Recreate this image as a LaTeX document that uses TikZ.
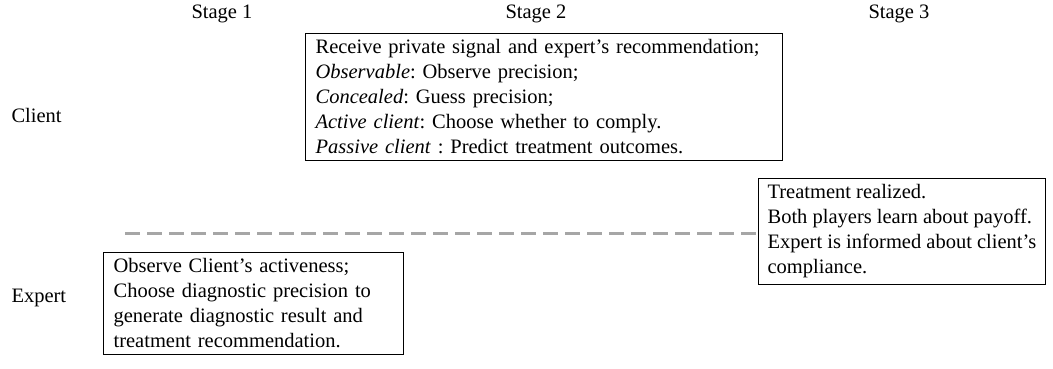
\documentclass[tikz,border=0pt]{standalone}
\usepackage{fontspec}
\setmainfont{Liberation Serif}
\usetikzlibrary{positioning}
\frenchspacing

\tikzset{
  stage/.style={anchor=base, font=\fontsize{20.5}{25}\selectfont},
  player/.style={anchor=base west, font=\fontsize{20.5}{25}\selectfont},
  stagebox/.style={draw, line width=1.2pt, anchor=north west, align=left,
    inner xsep=10pt, inner ysep=6pt, font=\fontsize{20.5}{25}\selectfont},
  divider/.style={line width=3pt, color=black!35, dash pattern=on 15pt off 7pt}
}

\begin{document}
\begin{tikzpicture}[x=1pt,y=-1pt]

		\useasboundingbox (0,0) rectangle (1053,368);

		\coordinate (S1) at (222,18);
		\coordinate (S2) at (536,18);
		\coordinate (S3) at (899,18);

		\node[stage] (stage1) at (S1) {Stage 1};
		\node[stage] (stage2) at (S2) {Stage 2};
		\node[stage] (stage3) at (S3) {Stage 3};

		\node[player] (client) at (8,122) {Client};
		\node[player] (expert) at (8,302) {Expert};

		% boxes of the three stages
		\node[stagebox, text width=457pt] (recv) at (305,33)
		  {Receive private signal and expert’s recommendation;\\
		   \textit{Observable}: Observe precision;\\
		   \textit{Concealed}: Guess precision;\\
		   \textit{Active client}: Choose whether to comply.\\
		   \textit{Passive client} : Predict treatment outcomes.};

		\node[stagebox, text width=280pt] (diag) at (103,252)
		  {Observe Client’s activeness;\\
		   Choose diagnostic precision to\\
		   generate diagnostic result and\\
		   treatment recommendation.};

		\node[stagebox, inner xsep=9pt] (treat) at (758,178)
		  {Treatment realized.\\
		   Both players learn about payoff.\\
		   Expert is informed about client’s\\
		   compliance.};

		\coordinate (L) at (125,233);
		\draw[divider] (L) -- (L -| treat.west);

\end{tikzpicture}
\end{document}
